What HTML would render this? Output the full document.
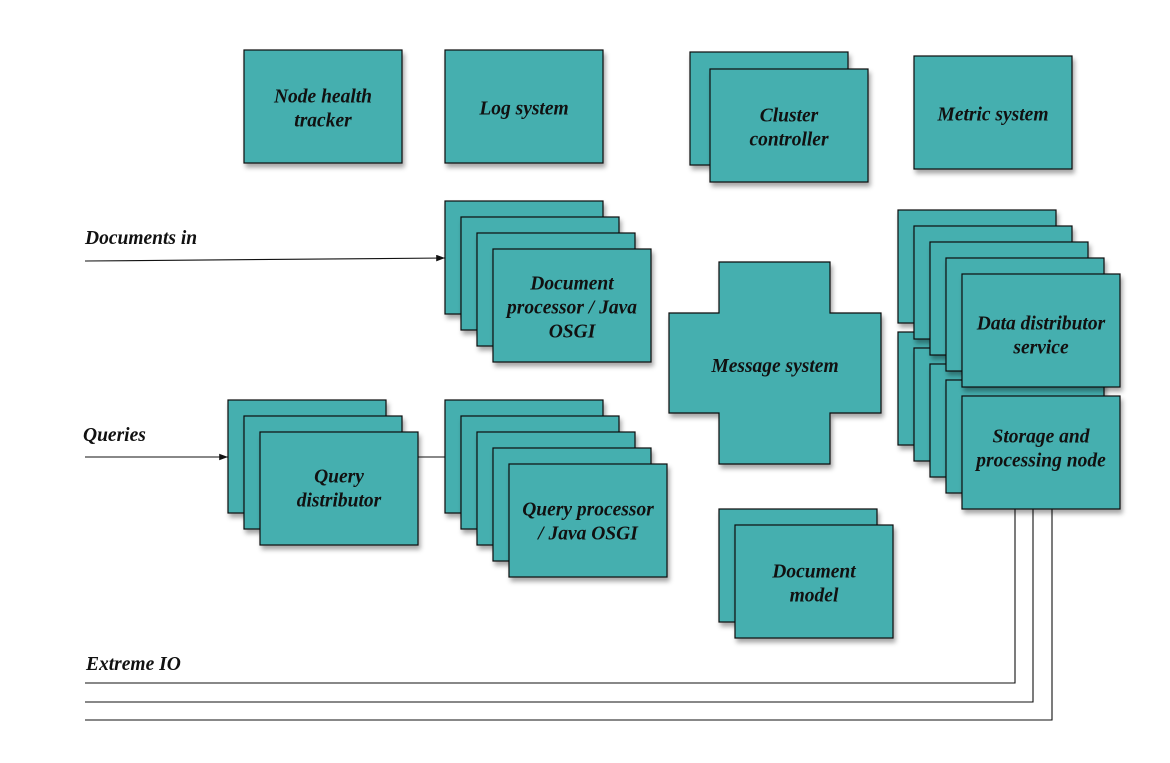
<!DOCTYPE html>
<html><head><meta charset="utf-8"><style>
html,body{margin:0;padding:0;background:#fff;width:1170px;height:763px;overflow:hidden}
svg text{font-family:"Liberation Serif",serif;font-style:italic;font-weight:bold;font-size:19.5px;fill:#111}
.b{fill:#45afaf;stroke:#111;stroke-width:1.2;filter:url(#sh)}
.l{stroke:#111;stroke-width:1.1;fill:none}
</style></head><body>
<svg width="1170" height="763" viewBox="0 0 1170 763">
<defs>
<filter id="sh" x="-10%" y="-10%" width="130%" height="130%"><feDropShadow dx="2" dy="4" stdDeviation="2.5" flood-color="#000" flood-opacity="0.35"/></filter>
<marker id="ar" markerWidth="8" markerHeight="6" refX="8" refY="3" orient="auto"><path d="M0,0 L8,3 L0,6z" fill="#111"/></marker>
</defs>
<g id="g"></g>
</svg>
<script>
const W=158,H=113;
const boxes=[
 ["node-health-tracker",[[244,50]],["Node health","tracker"],2],
 ["log-system",[[445,50]],["Log system"],2],
 ["cluster-controller",[[690,52],[710,69]],["Cluster","controller"],2],
 ["metric-system",[[914,56]],["Metric system"],2],
 ["document-processor",[[445,201],[461,217],[477,233],[493,249]],["Document","processor / Java","OSGI"],2],
 ["query-distributor",[[228,400],[244,416],[260,432]],["Query","distributor"],0],
 ["query-processor",[[445,400],[461,416],[477,432],[493,448],[509,464]],["Query processor","/ Java OSGI"],1],
 ["document-model",[[719,509],[735,525]],["Document","model"],2],
 ["storage-node",[[898,332],[914,348],[930,364],[946,380],[962,396]],["Storage and","processing node"],-4],
 ["data-distributor",[[898,210],[914,226],[930,242],[946,258],[962,274]],["Data distributor","service"],5]
];
const g=document.getElementById('g');
const NS="http://www.w3.org/2000/svg";
function mk(t,a){const e=document.createElementNS(NS,t);for(const k in a)e.setAttribute(k,a[k]);return e;}
function label(lines,cx,cy,name){
 const t=mk('text',{'text-anchor':'middle'});
 
 
 const n=lines.length;
 lines.forEach((s,i)=>{const sp=mk('tspan',{x:cx,y:cy+6+(i-(n-1)/2)*24});sp.textContent=s;t.appendChild(sp);});
 g.appendChild(t);
}
const lines=[
 ["documents-in-arrow","M85,261 L445,258",true],
 ["queries-arrow","M85,457 L228,457",true],
 ["query-link","M418,457 L445,457",false],
 ["extreme-io-line-1","M85,683 L1015,683 L1015,509",false],
 ["extreme-io-line-2","M85,702 L1033,702 L1033,509",false],
 ["extreme-io-line-3","M85,720 L1052,720 L1052,509",false]
];
lines.forEach(([n,d,a])=>{const p=mk('path',{d:d,class:'l'});if(a)p.setAttribute('marker-end','url(#ar)');
 
 
 g.appendChild(p);});
boxes.forEach(([name,pos,txt,off])=>{
 const grp=mk('g',{});
 
 
 pos.forEach(([x,y])=>grp.appendChild(mk('rect',{x:x,y:y,width:W,height:H,class:'b'})));
 g.appendChild(grp);
 const [x,y]=pos[pos.length-1];
 label(txt,x+W/2,y+H/2+off,name);
});
const c=mk('path',{d:'M719,262 H830 V313 H881 V413 H830 V464 H719 V413 H669 V313 H719 Z',class:'b'});


g.appendChild(c);
label(["Message system"],775,366,'message-system');
[["Documents in",85,244],["Queries",83,441],["Extreme IO",86,670]].forEach(([s,x,y])=>{
 const t=mk('text',{x:x,y:y});t.textContent=s;
 
 
 g.appendChild(t);});
</script>
</body></html>
